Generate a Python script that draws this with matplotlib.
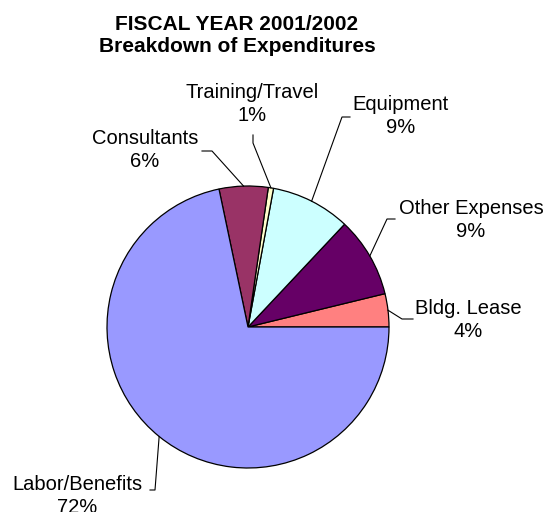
import numpy as np
import matplotlib.pyplot as plt

plt.rcParams['font.family'] = ['Liberation Sans', 'DejaVu Sans']

# Data
categories = ['Bldg. Lease', 'Other Expenses', 'Equipment', 'Training/Travel',
              'Consultants', 'Labor/Benefits']
shares = [3.8, 9.2, 9.1, 0.6, 5.6, 71.7]
colors = ['#FF8080', '#660066', '#CCFFFF', '#FFFFCC', '#993366', '#9999FF']

# layout (pixel coords, y from top): label centres and leader elbows
label_pos = [(468, 320), (471, 220), (401, 116), (252, 104), (145, 150), (77, 496)]
leader_pts = [[(402, 319), (413, 319)],
              [(387, 219), (395, 219)],
              [(342, 117), (350, 117)],
              [(253, 143), (253, 135)],
              [(212, 151), (202, 151)],
              [(155, 490), (150, 490)]]

W, H = 545, 512
cx, cy, R = 248, 327, 141

fig = plt.figure(figsize=(W / 100, H / 100), dpi=100)
ax = fig.add_axes([0, 0, 1, 1])

wedges, _ = ax.pie(shares, colors=colors, startangle=0, counterclock=True,
                   center=(cx, H - cy), radius=R,
                   wedgeprops=dict(edgecolor='black', linewidth=0.9))
ax.set_xlim(0, W)
ax.set_ylim(0, H)
ax.set_aspect('auto')
ax.axis('off')

for w, name, val, (tx, ty), pts in zip(wedges, categories, shares, label_pos, leader_pts):
    mid = np.deg2rad((w.theta1 + w.theta2) / 2)
    xs = [cx + R * np.cos(mid)] + [p[0] for p in pts]
    ys = [H - cy + R * np.sin(mid)] + [H - p[1] for p in pts]
    ax.plot(xs, ys, color='black', linewidth=0.8)
    ax.text(tx, H - ty, f'{name}\n{val:.0f}%', ha='center', va='center',
            fontsize=14.5, linespacing=1.25)

fig.text(237 / W, 1 - 35 / H, 'FISCAL YEAR 2001/2002\nBreakdown of Expenditures',
         ha='center', va='center', fontsize=15, fontweight='bold', linespacing=1.2)

fig.savefig('out.png', dpi=100)
